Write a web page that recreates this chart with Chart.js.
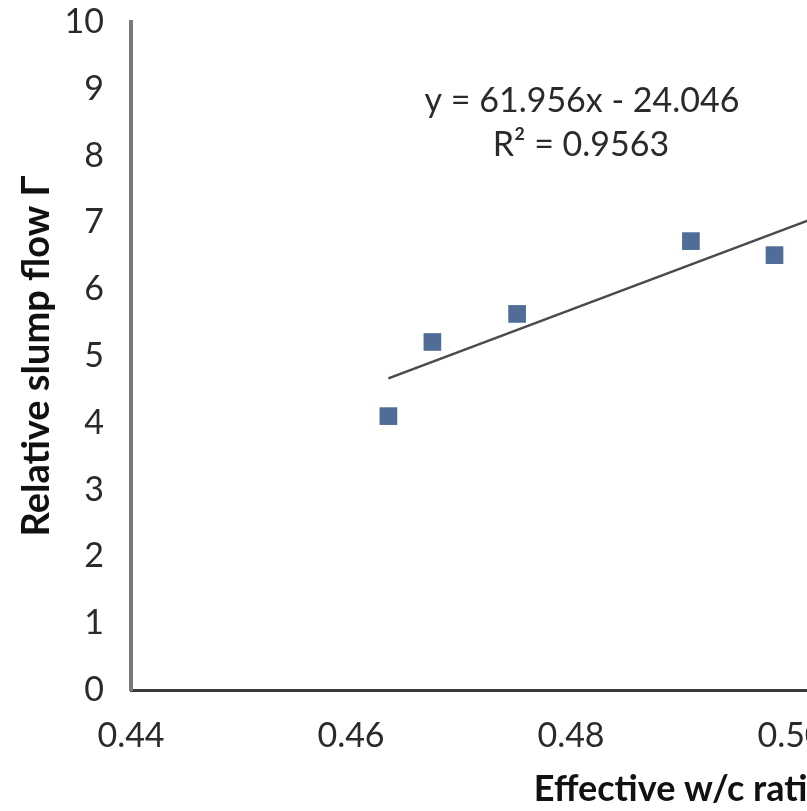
<!DOCTYPE html>
<html>
<head>
<meta charset="utf-8">
<script src="https://cdn.jsdelivr.net/npm/chart.js@4"></script>
<style>
  html, body { margin: 0; padding: 0; background: #fff; overflow: hidden; }
  #wrap { width: 1271px; height: 811px; }
</style>
</head>
<body>
<div id="wrap"><canvas id="chartSlump" width="1271" height="811"></canvas></div>
<script>
// measured points: effective w/c ratio vs relative slump flow
const wcRatio   = [0.4634, 0.4674, 0.4751, 0.4909, 0.4985];
const slumpFlow = [4.10, 5.21, 5.63, 6.72, 6.51];

// linear trendline as printed on the chart
const trendSlope     = 61.956;
const trendIntercept = -24.046;
const trendRange     = [0.4634, 0.52];
const eqLines        = ['y = 61.956x - 24.046', 'R\u00b2 = 0.9563'];

const xTicks = { min: 0.44, max: 0.54, step: 0.02 };
const yTicks = { min: 0, max: 10, step: 1 };

const font = 'Lato';

const eqLabel = {
  id: 'eqLabel',
  afterDatasetsDraw(chart) {
    const { ctx } = chart;
    ctx.save();
    ctx.font = '34px ' + font;
    ctx.fillStyle = '#2a2a2a';
    ctx.textAlign = 'center';
    ctx.textBaseline = 'middle';
    ctx.fillText(eqLines[0], 582, 101);
    ctx.fillText(eqLines[1], 581, 145);
    ctx.restore();
  }
};

document.addEventListener('DOMContentLoaded', () => {
  const el = document.getElementById('chartSlump');
  new Chart(el, {
    type: 'scatter',
    data: {
      datasets: [
        {
          label: 'Relative slump flow',
          data: wcRatio.map((x, i) => ({ x, y: slumpFlow[i] })),
          pointStyle: 'rect',
          pointRadius: 12.5,
          pointBackgroundColor: '#4f6d96',
          pointBorderColor: '#4f6d96',
          pointBorderWidth: 0,
        },
        {
          type: 'line',
          label: 'Linear trend',
          data: trendRange.map(x => ({ x, y: trendSlope * x + trendIntercept })),
          borderColor: '#4a4a4a',
          borderWidth: 2.5,
          pointRadius: 0,
          fill: false,
        },
      ],
    },
    options: {
      responsive: false,
      animation: false,
      layout: { padding: { top: 0, left: 0, right: 40, bottom: 0 } },
      plugins: {
        legend: { display: false },
        tooltip: { enabled: false },
      },
      scales: {
        x: {
          type: 'linear',
          min: xTicks.min,
          max: xTicks.max,
          afterFit: s => { s.height = 121; s.paddingLeft = 0; s.paddingRight = 0; },
          grid: { display: false, drawTicks: false },
          border: { display: true, color: '#3a3a3a', width: 3 },
          ticks: {
            stepSize: xTicks.step,
            padding: 26,
            color: '#2a2a2a',
            font: { family: font, size: 34 },
            callback: v => v.toFixed(2),
          },
          title: {
            display: true,
            text: 'Effective w/c ratio',
            color: '#111',
            font: { family: font, size: 36, weight: 'bold' },
            padding: { top: 0, bottom: 0 },
          },
        },
        y: {
          min: yTicks.min,
          max: yTicks.max,
          afterFit: s => { s.width = 131; s.paddingTop = 22; s.paddingBottom = 0; },
          grid: { display: false, drawTicks: false },
          border: { display: true, color: '#7a7a7a', width: 4 },
          ticks: {
            stepSize: yTicks.step,
            padding: 27,
            color: '#2a2a2a',
            font: { family: font, size: 34 },
          },
          title: {
            display: true,
            text: 'Relative slump flow \u0393',
            color: '#111',
            font: { family: font, size: 38, weight: 'bold' },
            padding: { top: 14, bottom: 0 },
          },
        },
      },
    },
    plugins: [eqLabel],
  });
});
</script>
</body>
</html>
